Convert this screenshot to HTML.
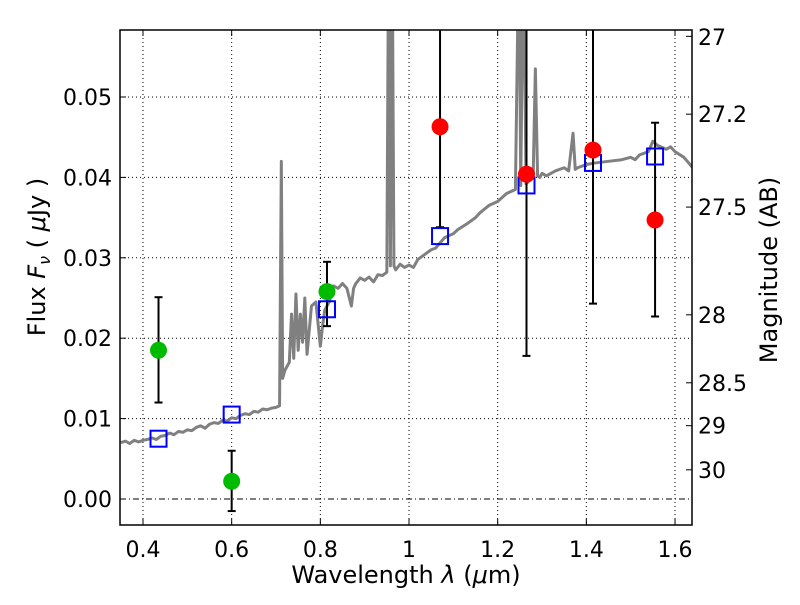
<!DOCTYPE html>
<html><head><meta charset="utf-8"><style>
body{margin:0;background:#fff}
svg text{font-family:"DejaVu Sans","Liberation Sans",sans-serif;fill:#000}
</style></head><body>
<svg id="chart" width="800" height="600" xmlns="http://www.w3.org/2000/svg"></svg>
<script>
const specLam=[0.35,0.36,0.37,0.38,0.39,0.40,0.41,0.42,0.43,0.44,0.45,0.46,0.47,0.48,0.49,0.50,0.51,0.52,0.53,0.54,0.55,0.56,0.57,0.58,0.59,0.60,0.61,0.62,0.63,0.64,0.65,0.66,0.67,0.68,0.69,0.70,0.708,0.712,0.715,0.72,0.73,0.735,0.74,0.745,0.75,0.755,0.76,0.765,0.77,0.78,0.79,0.80,0.805,0.81,0.82,0.83,0.84,0.85,0.86,0.87,0.875,0.88,0.89,0.90,0.91,0.92,0.93,0.94,0.95,0.954,0.958,0.962,0.966,0.97,0.98,0.99,1.0,1.01,1.02,1.03,1.05,1.06,1.08,1.1,1.11,1.13,1.15,1.16,1.18,1.2,1.21,1.22,1.24,1.248,1.252,1.258,1.264,1.27,1.28,1.285,1.29,1.295,1.30,1.31,1.33,1.35,1.36,1.37,1.375,1.38,1.40,1.42,1.45,1.48,1.5,1.51,1.52,1.54,1.55,1.56,1.58,1.59,1.6,1.62,1.64];
const specFlux=[0.0070,0.0072,0.0069,0.0073,0.0071,0.0073,0.0074,0.0076,0.0074,0.0078,0.0079,0.0082,0.0080,0.0084,0.0083,0.0086,0.0085,0.0089,0.0091,0.0088,0.0093,0.0095,0.0094,0.0098,0.0097,0.0101,0.0100,0.0104,0.0106,0.0105,0.0109,0.0108,0.0112,0.0111,0.0113,0.0114,0.0116,0.0420,0.0150,0.0160,0.0170,0.0230,0.0175,0.0255,0.0185,0.0230,0.0195,0.0250,0.0180,0.0240,0.0245,0.0190,0.0215,0.0235,0.0245,0.0265,0.0262,0.0268,0.0262,0.0240,0.0262,0.0268,0.0275,0.0272,0.0276,0.0270,0.0279,0.0278,0.0282,0.0700,0.0290,0.0700,0.0290,0.0285,0.0292,0.0288,0.0291,0.0288,0.0298,0.0302,0.0310,0.0312,0.0325,0.0330,0.0335,0.0342,0.0350,0.0356,0.0365,0.0370,0.0375,0.0380,0.0385,0.0700,0.0390,0.0700,0.0392,0.0395,0.0400,0.0535,0.0402,0.0400,0.0405,0.0402,0.0408,0.0412,0.0408,0.0455,0.0410,0.0412,0.0416,0.0418,0.0420,0.0422,0.0425,0.0422,0.0428,0.0432,0.0445,0.0440,0.0435,0.0438,0.0432,0.0425,0.0412];
const photLam=[0.435,0.6,0.815,1.07,1.265,1.415,1.555];
const photFlux=[0.0185,0.0022,0.0258,0.0463,0.0404,0.0434,0.0347];
const errLo=[0.0120,-0.0015,0.0215,0.0338,0.0178,0.0243,0.0227];
const errHi=[0.0251,0.0060,0.0295,0.0700,0.0700,0.0700,0.0468];
const photColor=["#00bb00","#00bb00","#00bb00","#ff0000","#ff0000","#ff0000","#ff0000"];
const modelFlux=[0.0075,0.0105,0.0236,0.0327,0.0390,0.0418,0.0426];
const xTicks=[0.4,0.6,0.8,1.0,1.2,1.4,1.6];
const xTickLabels=["0.4","0.6","0.8","1","1.2","1.4","1.6"];
const yTicks=[0,0.01,0.02,0.03,0.04,0.05];
const yTickLabels=["0.00","0.01","0.02","0.03","0.04","0.05"];
const magTicks=[27,27.2,27.5,28,28.5,29,30];

const L=120,R=692,T=30,B=525;
const X=v=>143+(v-0.4)/0.2*88.67;
const Y=v=>499-v*8040;
const magY=m=>Y(Math.pow(10,(23.9-m)/2.5));
const svg=document.getElementById('chart');
const NS="http://www.w3.org/2000/svg";
function el(t,a,p){const e=document.createElementNS(NS,t);for(const k in a)e.setAttribute(k,a[k]);(p||svg).appendChild(e);return e;}
const defs=el('defs',{});const cp=el('clipPath',{id:'clip'},defs);el('rect',{x:L,y:T,width:R-L,height:B-T},cp);
const g=el('g',{'clip-path':'url(#clip)'});

xTicks.forEach(v=>{const l=el('line',{x1:X(v),x2:X(v),y1:T,y2:B,stroke:'#000','stroke-dasharray':'1,3','stroke-width':1},g);
});
yTicks.forEach(v=>{const l=el('line',{x1:L,x2:R,y1:Y(v),y2:Y(v),stroke:'#000','stroke-dasharray':v===0?'6,3,1,3':'1,3','stroke-width':1},g);
});
const sp=el('polyline',{points:specLam.map((l,i)=>X(l)+','+Y(specFlux[i])).join(' '),fill:'none',stroke:'#808080','stroke-width':3,'stroke-linejoin':'round'},g);

photLam.forEach((l,i)=>{
 const eg=el('g',{},g);
 el('line',{x1:X(l),x2:X(l),y1:Y(errLo[i]),y2:Y(errHi[i]),stroke:'#000','stroke-width':2},eg);
 el('line',{x1:X(l)-4,x2:X(l)+4,y1:Y(errLo[i]),y2:Y(errLo[i]),stroke:'#000','stroke-width':2},eg);
 el('line',{x1:X(l)-4,x2:X(l)+4,y1:Y(errHi[i]),y2:Y(errHi[i]),stroke:'#000','stroke-width':2},eg);
 const s=el('rect',{x:X(l)-8,y:Y(modelFlux[i])-8,width:16,height:16,fill:'none',stroke:'#0000ff','stroke-width':2},g);
 
 const c=el('circle',{cx:X(l),cy:Y(photFlux[i]),r:8.5,fill:photColor[i]},g);
 
});
const fr=el('rect',{x:L,y:T,width:R-L,height:B-T,fill:'none',stroke:'#000','stroke-width':1.5});

xTicks.forEach((v,i)=>{el('line',{x1:X(v),x2:X(v),y1:B,y2:B-6,stroke:'#000'});el('line',{x1:X(v),x2:X(v),y1:T,y2:T+6,stroke:'#000'});
 const t=el('text',{x:X(v),y:557,'font-size':22,'text-anchor':'middle'});t.textContent=xTickLabels[i];
 });
yTicks.forEach((v,i)=>{el('line',{x1:L,x2:L+6,y1:Y(v),y2:Y(v),stroke:'#000'});
 const t=el('text',{x:112,y:Y(v)+8,'font-size':22,'text-anchor':'end'});t.textContent=yTickLabels[i];
 });
magTicks.forEach(m=>{const y=magY(m);el('line',{x1:R,x2:R-6,y1:y,y2:y,stroke:'#000'});
 const t=el('text',{x:698,y:Math.max(y,37)+8,'font-size':22});t.textContent=String(m);
 });
</script>
<svg width="800" height="600" style="position:absolute;left:0;top:0" xmlns="http://www.w3.org/2000/svg">
<text x="406" y="583" font-size="24" text-anchor="middle" font-family="DejaVu Sans,sans-serif">Wavelength  <tspan font-style="italic">λ</tspan> (<tspan font-style="italic">μ</tspan>m)</text>
<text transform="translate(45,257) rotate(-90)" font-size="24" text-anchor="middle" font-family="DejaVu Sans,sans-serif">Flux  <tspan font-style="italic">F</tspan><tspan font-style="italic" font-size="16" dy="5">ν</tspan><tspan dy="-5">  (  </tspan><tspan font-style="italic">μ</tspan>Jy )</text>
<text transform="translate(777,270) rotate(-90)" font-size="24" text-anchor="middle" font-family="DejaVu Sans,sans-serif">Magnitude (AB)</text>
</svg>
</body></html>
